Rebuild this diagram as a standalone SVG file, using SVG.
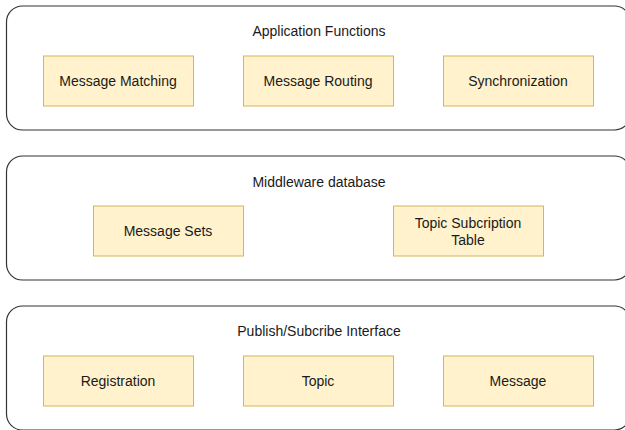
<svg xmlns="http://www.w3.org/2000/svg" width="625" height="430" viewBox="0 0 625 430">
<style>
.cont{fill:#ffffff;stroke:#333333;stroke-width:1.2}
.box{fill:#fff2cc;stroke:#d6b656;stroke-width:1}
text{font-family:"Liberation Sans",Arial,sans-serif;font-size:14px;fill:#1a1a1a;text-anchor:middle;dominant-baseline:central}
</style>
<rect width="625" height="430" fill="#ffffff"/>
<g id="app-functions">
<rect class="cont" x="6.5" y="6" width="624" height="124" rx="16" ry="16"/>
<text x="319" y="31">Application Functions</text>
</g>
<g id="message-matching"><rect class="box" x="43.5" y="56" width="150" height="50"/><text x="118" y="81">Message Matching</text></g>
<g id="message-routing"><rect class="box" x="243.5" y="56" width="150" height="50"/><text x="318" y="81">Message Routing</text></g>
<g id="synchronization"><rect class="box" x="443.5" y="56" width="150" height="50"/><text x="518" y="81">Synchronization</text></g>
<g id="middleware-db">
<rect class="cont" x="6.5" y="156" width="624" height="124" rx="16" ry="16"/>
<text x="319" y="182">Middleware database</text>
</g>
<g id="message-sets"><rect class="box" x="93.5" y="206" width="150" height="50"/><text x="168" y="231">Message Sets</text></g>
<g id="topic-subscription-table"><rect class="box" x="393.5" y="206" width="150" height="50"/><text x="468" y="222.5">Topic Subcription</text><text x="468" y="240">Table</text></g>
<g id="pubsub-interface">
<rect class="cont" x="6.5" y="306" width="624" height="124" rx="16" ry="16"/>
<text x="319" y="331">Publish/Subcribe Interface</text>
</g>
<g id="registration"><rect class="box" x="43.5" y="356" width="150" height="50"/><text x="118" y="381">Registration</text></g>
<g id="topic"><rect class="box" x="243.5" y="356" width="150" height="50"/><text x="318" y="381">Topic</text></g>
<g id="message"><rect class="box" x="443.5" y="356" width="150" height="50"/><text x="518" y="381">Message</text></g>
<g id="connectors"></g>
</svg>
